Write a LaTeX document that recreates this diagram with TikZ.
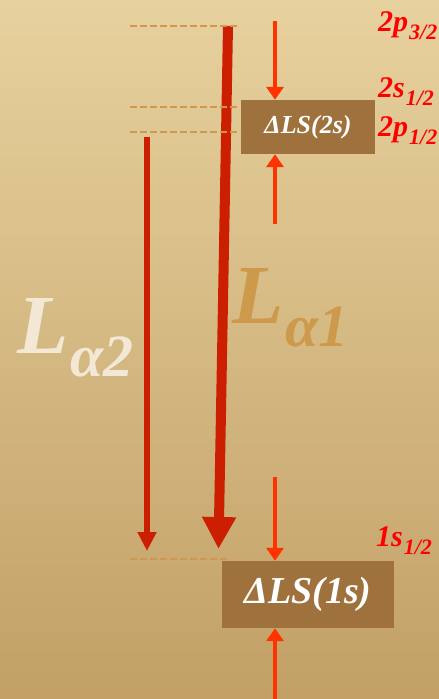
\documentclass[tikz,border=0pt]{standalone}
\usepackage{fontspec}
\setmainfont{Liberation Serif}
\usetikzlibrary{arrows.meta}
\definecolor{bgtop}{RGB}{231,209,158}
\definecolor{bgbot}{RGB}{194,160,102}
\definecolor{lvlc}{RGB}{208,152,78}
\definecolor{shiftc}{RGB}{158,113,61}
\definecolor{redarr}{RGB}{204,30,0}
\definecolor{sharr}{RGB}{255,51,0}
\definecolor{termc}{RGB}{255,0,0}
\definecolor{Laone}{RGB}{204,154,74}
\definecolor{Latwo}{RGB}{242,232,213}
\tikzset{
  level/.style={lvlc, line width=2pt, dash pattern=on 7pt off 3pt},
  shiftbox/.style={fill=shiftc, text=white, inner sep=0pt, font=\bfseries\itshape},
  shiftarr/.style={sharr, line width=4.5pt, -{Triangle[length=13pt,width=17pt]}},
  linea/.style={redarr, line width=10pt, -{Triangle[length=32pt,width=32pt]}},
  lineb/.style={redarr, line width=5.5pt, -{Triangle[length=19pt,width=18pt]}},
  term/.style={termc, anchor=base west, inner sep=0pt, font=\bfseries\itshape\fontsize{30}{30}\selectfont},
  lname/.style={anchor=base west, inner sep=0pt, font=\bfseries\itshape\fontsize{84}{84}\selectfont},
}
\newcommand{\termsub}[2]{#1\kern1pt\raisebox{-8pt}{\fontsize{22}{22}\selectfont #2}}
\newcommand{\lsub}[2]{#1\kern2pt\raisebox{-23pt}{\fontsize{60}{60}\selectfont #2}}

\begin{document}
\begin{tikzpicture}[x=1pt, y=-1pt]
  \useasboundingbox (0,0) rectangle (439,699);
  \shade[top color=bgtop, bottom color=bgbot] (0,0) rectangle (439,699);

  \node[lname, Latwo] (la2) at (17,353) {\lsub{L}{α2}};
  \node[lname, Laone] (la1) at (232,323) {\lsub{L}{α1}};

  \node[shiftbox, minimum width=134pt, minimum height=54pt, font=\bfseries\itshape\fontsize{26}{26}\selectfont] (ls2) at (308,127) {ΔLS(2s)};
  \node[shiftbox, minimum width=172pt, minimum height=67pt, font=\bfseries\itshape\fontsize{38}{38}\selectfont] (ls1) at (308,594.5) {ΔLS(1s)};

  \coordinate (d2) at (275,21);
  \coordinate (u2) at (275,224);
  \coordinate (d1) at (275,477);
  \coordinate (u1) at (275,699);
  \draw[shiftarr] (d2) -- (d2 |- ls2.north);
  \draw[shiftarr] (u2) -- (u2 |- ls2.south);
  \draw[shiftarr] (d1) -- (d1 |- ls1.north);
  \draw[shiftarr] (u1) -- (u1 |- ls1.south);

  \coordinate (a1s) at (228,26);
  \coordinate (a1e) at (218.5,549);
  \coordinate (a2s) at (147,137);
  \coordinate (a2e) at (147,551);
  \draw[linea] (a1s) -- (a1e);
  \draw[lineb] (a2s) -- (a2e);

  \foreach \yy in {26,107,132} \draw[level] (130,\yy) -- (239,\yy);
  \draw[level] (130,559) -- (227,559);

  \node[term] (p32) at (378,31) {\termsub{2p}{3/2}};
  \node[term] (s12) at (378,97) {\termsub{2s}{1/2}};
  \node[term] (p12) at (378,136) {\termsub{2p}{1/2}};
  \node[term] (s1) at (376,546) {\termsub{1s}{1/2}};
\end{tikzpicture}
\end{document}
